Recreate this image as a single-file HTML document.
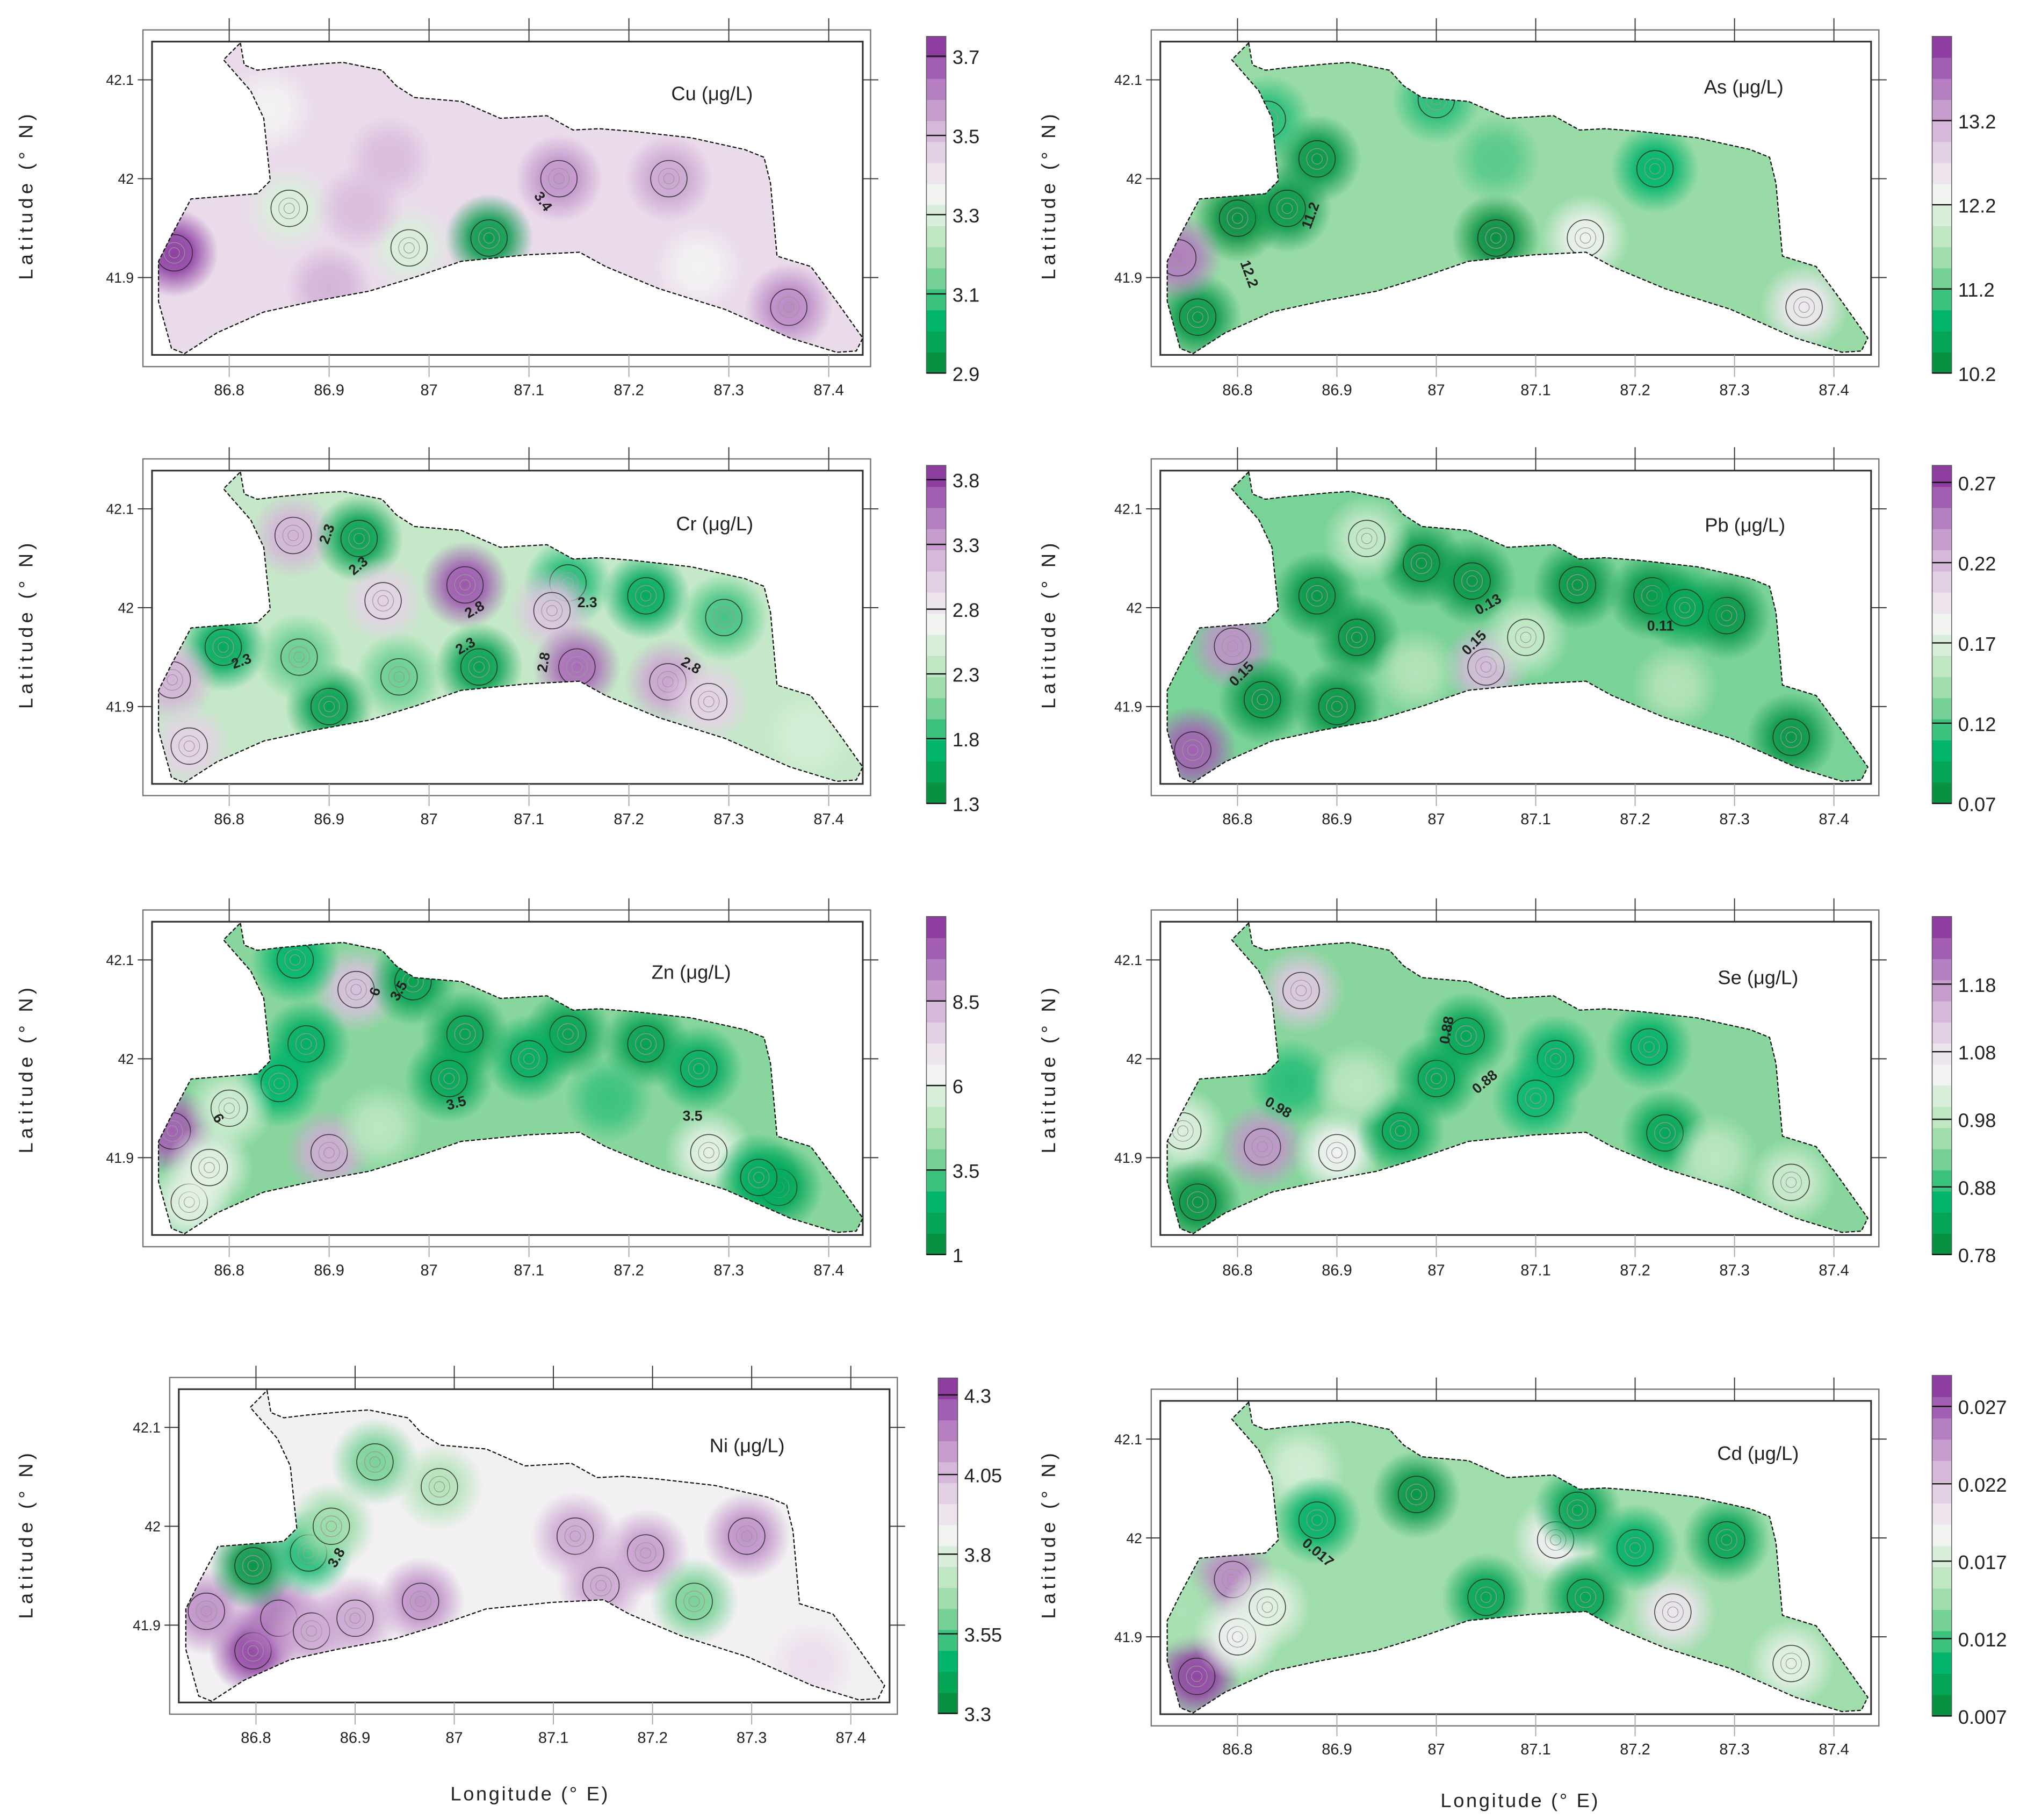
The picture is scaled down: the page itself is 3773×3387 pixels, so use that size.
<!DOCTYPE html>
<html><head><meta charset="utf-8">
<style>
html,body{margin:0;padding:0;background:#fff;}
svg{display:block;}
text{font-family:"Liberation Sans",sans-serif;fill:#222;}
</style></head>
<body>
<svg id="fig" xmlns="http://www.w3.org/2000/svg" width="3773" height="3387" viewBox="0 0 1560 1400" preserveAspectRatio="none">
<defs id="defs"></defs>
<g id="root"></g>
</svg>
<script>
// ---------- data arrays ----------
const cuLon=[86.745,87.06,86.98,86.86,87.13,87.36,87.27,87.24,86.96,86.9,86.84,86.93];
const cuLat=[41.925,41.94,41.93,41.97,42.0,41.87,41.91,42.0,42.02,41.89,42.07,41.97];
const cuVal=[3.72,2.95,3.3,3.3,3.58,3.6,3.36,3.55,3.5,3.52,3.36,3.5];
const asLon=[86.8,86.85,86.88,87.06,86.76,86.74,87.15,87.22,87.37,86.83,87.06,87.0];
const asLat=[41.96,41.97,42.02,41.94,41.86,41.92,41.94,42.01,41.87,42.06,42.02,42.08];
const asVal=[10.3,10.4,10.4,10.3,10.4,13.6,12.3,10.8,12.5,11.0,11.2,11.0];
const crLon=[86.864,86.93,87.036,87.139,87.217,87.295,86.954,87.123,87.148,87.239,87.28,87.05,86.9,86.794,86.743,86.76,86.97,86.87,87.38];
const crLat=[42.073,42.07,42.023,42.025,42.012,41.99,42.007,41.997,41.94,41.925,41.905,41.94,41.9,41.96,41.927,41.86,41.93,41.95,41.87];
const crVal=[3.2,1.5,3.7,1.8,1.6,1.9,3.0,3.1,3.6,3.3,3.0,1.5,1.5,1.6,3.2,3.0,2.0,2.0,2.5];
const pbLon=[86.795,86.755,87.05,86.88,86.92,86.9,86.825,86.985,87.036,87.142,87.217,87.292,87.357,86.93,87.24,86.98,87.09,87.25];
const pbLat=[41.961,41.856,41.94,42.012,41.97,41.9,41.907,42.045,42.027,42.023,42.012,41.992,41.869,42.07,41.92,41.935,41.97,42.0];
const pbVal=[0.24,0.26,0.22,0.08,0.08,0.08,0.08,0.08,0.08,0.08,0.08,0.08,0.08,0.16,0.15,0.15,0.16,0.09];
const znLon=[86.743,86.9,86.927,86.866,86.877,86.85,86.984,87.036,87.139,87.217,87.02,87.35,87.28,86.76,87.1,87.27,87.18,87.33,86.8,86.78,86.95];
const znLat=[41.927,41.905,42.07,42.1,42.015,41.975,42.078,42.025,42.025,42.015,41.98,41.87,41.905,41.855,42.0,41.99,41.96,41.88,41.95,41.89,41.93];
const znVal=[10,8.5,8,2.5,2.3,2.5,1.8,1.8,1.8,1.8,2,2,6,6,2.2,2.2,3.2,2.2,5.5,6,5];
const seLon=[86.864,86.825,86.9,86.745,86.76,86.854,86.964,87.0,87.03,87.214,87.23,87.12,86.92,87.28,87.357,87.1];
const seLat=[42.069,41.911,41.905,41.927,41.855,41.976,41.927,41.98,42.023,42.012,41.925,42.0,41.973,41.9,41.875,41.96];
const seVal=[1.12,1.18,1.05,1.02,0.8,0.88,0.83,0.83,0.83,0.85,0.83,0.85,0.98,0.98,1.0,0.86];
const niLon=[86.797,86.823,86.75,86.856,86.797,86.853,86.92,86.876,87.122,87.193,87.295,87.148,86.966,86.9,87.242,86.985,87.36];
const niLat=[41.874,41.907,41.914,41.894,41.96,41.973,42.065,42.0,41.99,41.973,41.99,41.94,41.924,41.907,41.924,42.04,41.86];
const niVal=[4.3,4.2,4.15,4.1,3.35,3.5,3.6,3.65,4.1,4.12,4.15,4.1,4.15,4.1,3.6,3.7,3.95];
const cdLon=[86.759,86.795,87.12,87.238,87.357,86.864,86.745,86.8,86.98,86.88,87.05,87.142,87.15,87.292,87.2,86.83];
const cdLat=[41.86,41.958,41.998,41.925,41.873,42.07,41.925,41.9,42.044,42.018,41.94,42.028,41.94,41.998,41.99,41.93];
const cdVal=[0.028,0.025,0.019,0.02,0.018,0.017,0.015,0.019,0.008,0.01,0.009,0.009,0.009,0.009,0.01,0.018];
const cuTicks=[2.9,3.1,3.3,3.5,3.7];
const asTicks=[10.2,11.2,12.2,13.2];
const crTicks=[1.3,1.8,2.3,2.8,3.3,3.8];
const pbTicks=[0.07,0.12,0.17,0.22,0.27];
const znTicks=[1,3.5,6,8.5];
const seTicks=[0.78,0.88,0.98,1.08,1.18];
const niTicks=[3.3,3.55,3.8,4.05,4.3];
const cdTicks=[0.007,0.012,0.017,0.022,0.027];
const lonTicks=[86.8,86.9,87,87.1,87.2,87.3,87.4];
const latTicks=[42.1,42,41.9];

// ---------- helpers ----------
const NS="http://www.w3.org/2000/svg";
const root=document.getElementById('root');
const defs=document.getElementById('defs');
function mk(tag,attrs,parent){const e=document.createElementNS(NS,tag);for(const k in attrs)e.setAttribute(k,attrs[k]);(parent||root).appendChild(e);return e;}
const STOPS=["#0b873a","#06a050","#00b56b","#45c482","#8fd8a0","#b6e4bb","#d6eed7","#f3f3f3","#ecdeec","#dcc3df","#caa3d0","#b47ec0","#9d55ae","#842e97"];
function hex(h){return[parseInt(h.substr(1,2),16),parseInt(h.substr(3,2),16),parseInt(h.substr(5,2),16)];}
function cmap(t){t=Math.max(0,Math.min(1,t));const f=t*(STOPS.length-1);const i=Math.min(STOPS.length-2,Math.floor(f));const u=f-i;const a=hex(STOPS[i]),b=hex(STOPS[i+1]);return "rgb("+a.map((v,k)=>Math.round(v+(b[k]-v)*u)).join(",")+")";}
const OUTPX=[[185,33],[188,50],[198,54],[215,52],[248,49],[264,48],[294,54],[305,66],[319,75],[355,78],[385,91],[421,89],[441,100],[461,99],[487,101],[532,106],[573,115],[588,121],[593,141],[598,197],[624,205],[644,232],[664,260],[659,270],[644,271],[608,260],[558,238],[507,222],[466,205],[446,194],[406,196],[355,201],[320,213],[284,224],[240,232],[203,240],[167,256],[142,272],[132,268],[122,232],[122,201],[132,181],[147,153],[198,149],[208,139],[203,91],[193,70],[172,46]];
const OUTLL=OUTPX.map(p=>[86.8+(p[0]-176.4)*0.6/461.4,42.1-(p[1]-61.4)*0.2/152.1]);

const panels=[
 {id:'cu',title:'Cu (μg/L)',lon:cuLon,lat:cuLat,val:cuVal,ticks:cuTicks,vmin:2.9,vmax:3.75,base:3.43,dx:0,dy:0,kx:769,cbx:713,cbt:28,cbb:287,tx:548,ty:72,
  labels:[["3.4",415,157,55]]},
 {id:'as',title:'As (μg/L)',lon:asLon,lat:asLat,val:asVal,ticks:asTicks,vmin:10.2,vmax:14.2,base:11.5,dx:776,dy:0,kx:765,cbx:1487,cbt:28,cbb:287,tx:1342,ty:67,
  labels:[["11.2",1012,167,-70],["12.2",958,212,70]]},
 {id:'cr',title:'Cr (μg/L)',lon:crLon,lat:crLat,val:crVal,ticks:crTicks,vmin:1.3,vmax:3.91,base:2.4,dx:0,dy:330,kx:769,cbx:713,cbt:358,cbb:618,tx:550,ty:403,
  labels:[["2.3",255,412,-70],["2.3",278,438,-40],["2.8",367,472,-30],["2.3",187,512,-20],["2.3",360,500,-30],["2.3",452,467,0],["2.8",422,510,-80],["2.8",530,515,30]]},
 {id:'pb',title:'Pb (μg/L)',lon:pbLon,lat:pbLat,val:pbVal,ticks:pbTicks,vmin:0.07,vmax:0.2806,base:0.13,dx:776,dy:330,kx:765,cbx:1487,cbt:358,cbb:618,tx:1343,ty:404,
  labels:[["0.13",1147,468,-30],["0.15",1137,497,-45],["0.15",958,521,-45],["0.11",1278,485,0]]},
 {id:'zn',title:'Zn (μg/L)',lon:znLon,lat:znLat,val:znVal,ticks:znTicks,vmin:1,vmax:11,base:4.0,dx:0,dy:677,kx:769,cbx:713,cbt:705,cbb:965,tx:532,ty:748,
  labels:[["6",292,764,-70],["3.5",310,764,-60],["3.5",352,852,-15],["3.5",533,862,0],["6",165,862,60]]},
 {id:'se',title:'Se (μg/L)',lon:seLon,lat:seLat,val:seVal,ticks:seTicks,vmin:0.78,vmax:1.28,base:0.93,dx:776,dy:677,kx:765,cbx:1487,cbt:705,cbb:965,tx:1353,ty:752,
  labels:[["0.88",1117,793,-80],["0.88",1145,835,-40],["0.98",982,855,30]]},
 {id:'ni',title:'Ni (μg/L)',lon:niLon,lat:niLat,val:niVal,ticks:niTicks,vmin:3.3,vmax:4.353,base:3.88,dx:20.6,dy:1036.6,kx:763,cbx:722,cbt:1060,cbb:1318,tx:575,ty:1112,
  labels:[["3.8",262,1200,-60]]},
 {id:'cd',title:'Cd (μg/L)',lon:cdLon,lat:cdLat,val:cdVal,ticks:cdTicks,vmin:0.007,vmax:0.029,base:0.0145,dx:776,dy:1045.6,kx:765,cbx:1487,cbt:1058,cbb:1320,tx:1353,ty:1118,
  labels:[["0.017",1012,1197,40]]}
];

panels.forEach(P=>{
  const g=mk('g',{});
  
  
  const X=lon=>176.4+P.dx+(lon-86.8)*P.kx;
  const Y=lat=>61.4+P.dy+(42.1-lat)*760.5;
  const T=v=>(v-P.vmin)/(P.vmax-P.vmin);
  const fo=mk('rect',{x:110+P.dx,y:23+P.dy,width:560,height:259,fill:'none',stroke:'#777','stroke-width':1},g);
  
  
  const fi=mk('rect',{x:117+P.dx,y:32+P.dy,width:547,height:241,fill:'none',stroke:'#333','stroke-width':1.3},g);
  
  
  lonTicks.forEach(l=>{
    const x=X(l);
    mk('line',{x1:x,y1:14+P.dy,x2:x,y2:32+P.dy,stroke:'#333','stroke-width':0.8},g);
    mk('line',{x1:x,y1:273+P.dy,x2:x,y2:290+P.dy,stroke:'#aaa','stroke-width':0.8},g);
    const t=mk('text',{x:x,y:304+P.dy,'font-size':12,'text-anchor':'middle'},g);
    t.textContent=(''+l);
    
    
  });
  latTicks.forEach(l=>{
    const y=Y(l);
    mk('line',{x1:106+P.dx,y1:y,x2:117+P.dx,y2:y,stroke:'#333','stroke-width':0.8},g);
    mk('line',{x1:664+P.dx,y1:y,x2:676+P.dx,y2:y,stroke:'#333','stroke-width':0.8},g);
    const t=mk('text',{x:103+P.dx,y:y+4,'font-size':11,'text-anchor':'end'},g);
    t.textContent=(''+l);
    
    
  });
  const pts=OUTLL.map(p=>X(p[0]).toFixed(1)+','+Y(p[1]).toFixed(1)).join(' ');
  const cp=mk('clipPath',{id:'clip-'+P.id},defs);
  mk('polygon',{points:pts},cp);
  const lake=mk('g',{'clip-path':'url(#clip-'+P.id+')'},g);
  
  
  mk('rect',{x:100+P.dx,y:20+P.dy,width:580,height:270,fill:cmap(T(P.base))},lake);
  P.val.forEach((v,i)=>{
    const gid='g-'+P.id+'-'+i;
    const rg=mk('radialGradient',{id:gid},defs);
    const c=cmap(T(v));
    mk('stop',{offset:'0','stop-color':c,'stop-opacity':1},rg);
    mk('stop',{offset:'0.45','stop-color':c,'stop-opacity':0.85},rg);
    mk('stop',{offset:'1','stop-color':c,'stop-opacity':0},rg);
    const cx=X(P.lon[i]),cy=Y(P.lat[i]);
    const h=mk('circle',{cx:cx,cy:cy,r:34,fill:'url(#'+gid+')'},lake);
    
    
    const d=Math.abs(T(v)-T(P.base));
    if(d>0.12){
      mk('circle',{cx:cx,cy:cy,r:14,fill:'none',stroke:'#222','stroke-width':0.7,'stroke-opacity':0.8},lake);
      mk('circle',{cx:cx,cy:cy,r:8,fill:'none',stroke:'#999','stroke-width':0.5},lake);
      mk('circle',{cx:cx,cy:cy,r:4,fill:'none',stroke:'#999','stroke-width':0.5},lake);
    }
  });
  const ol=mk('polygon',{points:pts,fill:'none',stroke:'#111','stroke-width':0.9,'stroke-dasharray':'3 1.5'},g);
  
  
  P.labels.forEach(L=>{
    const t=mk('text',{x:L[1],y:L[2],'font-size':11,'font-weight':'bold','text-anchor':'middle',transform:'rotate('+L[3]+' '+L[1]+' '+L[2]+')'},g);
    t.textContent=L[0];
    
    
  });
  const tt=mk('text',{x:P.tx,y:P.ty+5,'font-size':15,'text-anchor':'middle'},g);
  tt.textContent=P.title;
  
  
  const cb=mk('g',{},g);
  
  
  const n=16,h=(P.cbb-P.cbt)/n;
  for(let k=0;k<n;k++){
    mk('rect',{x:P.cbx,y:P.cbb-(k+1)*h,width:15,height:h+0.3,fill:cmap((k+0.5)/n)},cb);
    mk('line',{x1:P.cbx,x2:P.cbx+15,y1:P.cbb-(k+1)*h,y2:P.cbb-(k+1)*h,stroke:'#777','stroke-width':0.4},cb);
  }
  mk('rect',{x:P.cbx,y:P.cbt,width:15,height:P.cbb-P.cbt,fill:'none',stroke:'#555','stroke-width':0.6},cb);
  P.ticks.forEach(v=>{
    const y=P.cbb-T(v)*(P.cbb-P.cbt);
    mk('line',{x1:P.cbx,x2:P.cbx+15,y1:y,y2:y,stroke:'#111','stroke-width':1},cb);
    const t=mk('text',{x:P.cbx+20,y:y+6,'font-size':15},cb);
    t.textContent=''+v;
    
    
  });
});
[[25,150],[25,480],[25,822],[25,1180],[812,150],[812,480],[812,822],[812,1180]].forEach(p=>{
  const t=mk('text',{x:p[0],y:p[1],'font-size':15,'text-anchor':'middle','letter-spacing':'3',transform:'rotate(-90 '+p[0]+' '+p[1]+')'});
  t.textContent='Latitude (° N)';
  
  
});
[[408,1385],[1170,1390]].forEach(p=>{
  const t=mk('text',{x:p[0],y:p[1],'font-size':15,'text-anchor':'middle','letter-spacing':'1.5'});
  t.textContent='Longitude (° E)';
  
  
});
</script>
</body></html>
